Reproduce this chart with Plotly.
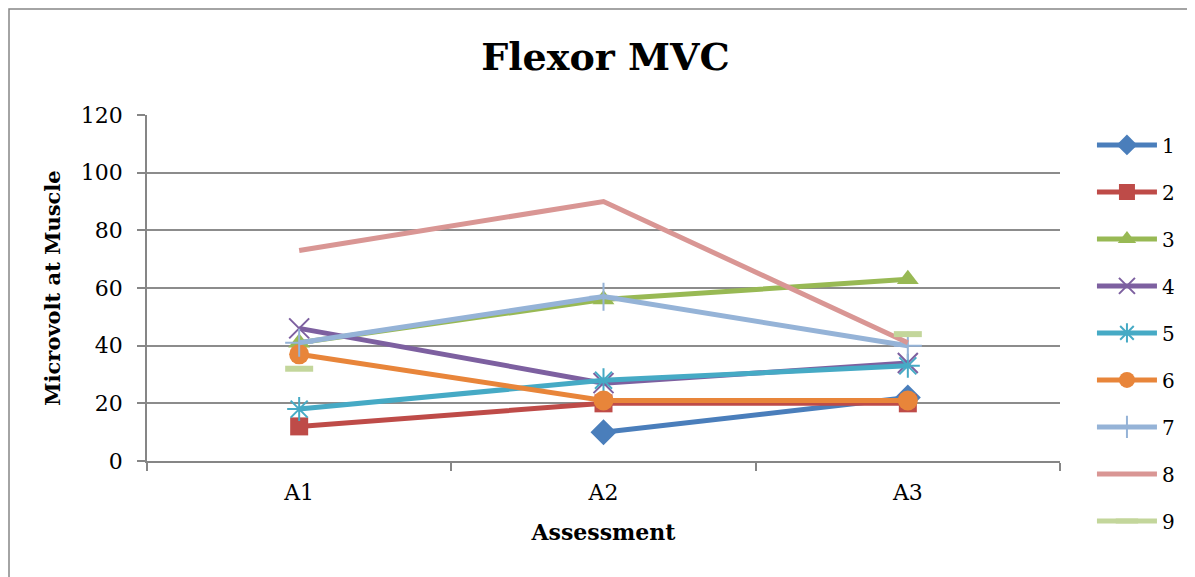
import plotly.graph_objects as go

categories = ["A1", "A2", "A3"]
series_names = ["1", "2", "3", "4", "5", "6", "7", "8", "9"]
s1 = [None, 10, 22]
s2 = [12, 20, 20]
s3 = [41, 56, 63]
s4 = [46, 27, 34]
s5 = [18, 28, 33]
s6 = [37, 21, 21]
s7 = [41, 57, 40]
s8 = [73, 90, 41]
s9 = [32, None, 44]
all_series = [s1, s2, s3, s4, s5, s6, s7, s8, s9]
yticks = [0, 20, 40, 60, 80, 100, 120]

colors = ["#4A7EBB", "#BE4B48", "#98B954", "#7D60A0", "#46AAC5",
          "#E8853A", "#95B3D7", "#D99694", "#C3D69B"]
symbols = ["diamond", "square", "triangle-up", "x-thin-open", "asterisk-open",
           "circle", "cross-thin-open", None, "line-ew-open"]
msizes = [20, 18, 19, 20, 20, 20, 20, 0, 20]

FONT = "DejaVu Serif"
xs = list(range(len(categories)))

# plot area (figure coordinates; page adds 8px body offset)
L, T, W, H = 139, 107, 913, 346

fig = go.Figure()
for i, (name, vals) in enumerate(zip(series_names, all_series)):
    sym = symbols[i]
    if sym is None:
        mode = "lines"
        marker = None
    else:
        mode = "lines+markers"
        open_ = sym.endswith("-open")
        marker = dict(symbol=sym, size=msizes[i], color=colors[i],
                      line=dict(color=colors[i], width=(6 if sym.startswith("line") else 2) if open_ else 0))
    fig.add_trace(go.Scatter(
        x=xs, y=vals, name=name, mode=mode, legendgroup=name,
        line=dict(color=colors[i], width=5),
        marker=marker, connectgaps=False,
    ))

fig.update_layout(
    width=1195, height=577,
    paper_bgcolor="white", plot_bgcolor="white",
    margin=dict(l=L, r=1195 - L - W, t=T, b=577 - T - H),
    title=dict(text="<b>Flexor MVC</b>", x=0.5, xanchor="center", y=1 - 49 / 577, yanchor="middle",
               font=dict(family=FONT, size=38, color="black")),
    font=dict(family=FONT, color="black", size=22),
    showlegend=True,
    legend=dict(x=1.035, y=0.97, xanchor="left", yanchor="top", tracegroupgap=18, maxheight=540,
                font=dict(family=FONT, size=20, color="black"), itemwidth=60,
                bgcolor="rgba(0,0,0,0)"),
    xaxis=dict(range=[-0.5, 2.5], tickmode="array", tickvals=xs, ticktext=categories,
               ticks="", showgrid=False, zeroline=False, showline=True,
               linecolor="#868686", linewidth=1.5, ticklabelstandoff=11,
               tickfont=dict(family=FONT, size=22, color="black"),
               minor=dict(tickmode="array", tickvals=[-0.5, 0.5, 1.5, 2.5], ticks="outside",
                          ticklen=8, tickcolor="#868686", tickwidth=1.5, showgrid=False),
               title=dict(text="<b>Assessment</b>", font=dict(family=FONT, size=22, color="black"),
                          standoff=20)),
    yaxis=dict(range=[0, 120], tickmode="array", tickvals=yticks, ticks="outside", ticklen=8,
               tickcolor="#868686", tickwidth=1.5, showgrid=True, gridcolor="#8C8C8C",
               gridwidth=1.5, zeroline=False, showline=True, linecolor="#868686", linewidth=1.5,
               ticklabelstandoff=10,
               tickfont=dict(family=FONT, size=22, color="black"),
               title=dict(text="<b>Microvolt at Muscle</b>", font=dict(family=FONT, size=21, color="black"),
                          standoff=14)),
    shapes=[dict(type="rect", xref="paper", yref="paper",
                 x0=(1 - L) / W, x1=1.3, y0=-0.6, y1=(T + H - 1) / H,
                 line=dict(color="#868686", width=1.5), fillcolor="rgba(0,0,0,0)", layer="below")],
)

fig.write_html("out.html")
